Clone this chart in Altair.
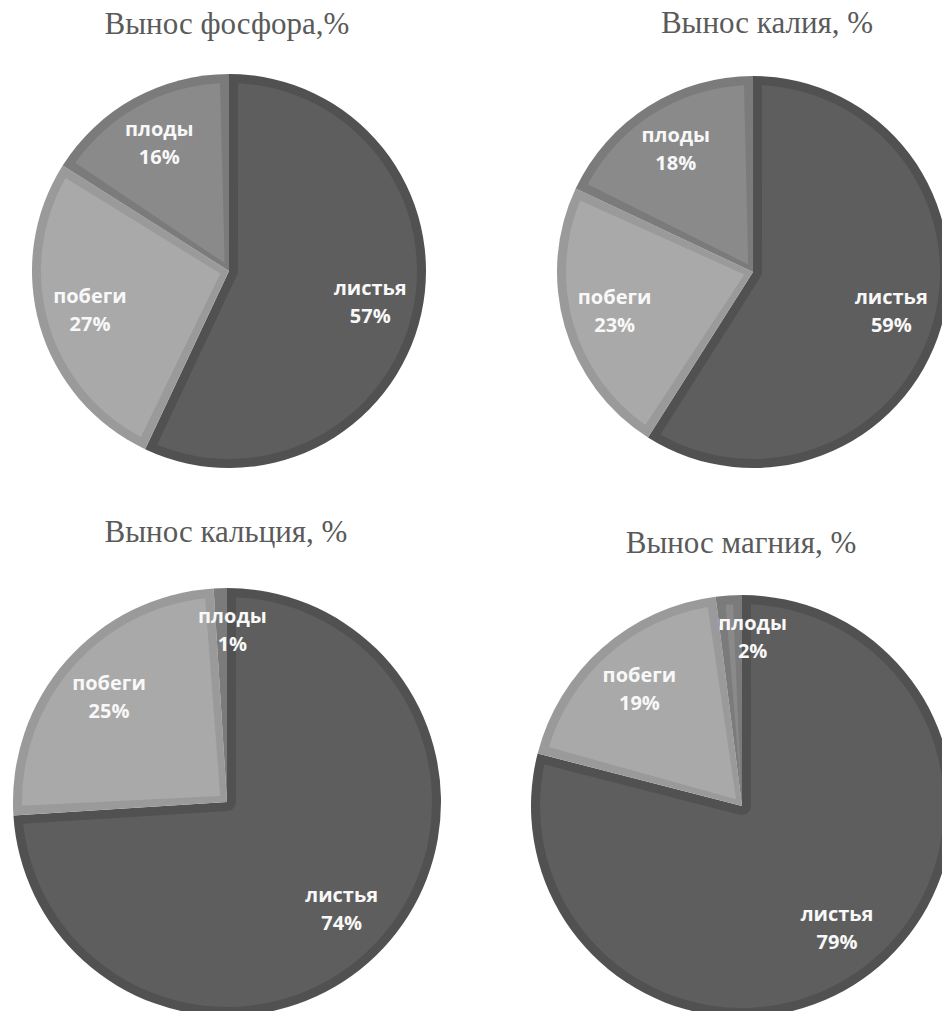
import altair as alt
import pandas as pd

# ---- data ----
parts = ["листья", "побеги", "плоды"]
titles = ["Вынос фосфора,%", "Вынос калия, %", "Вынос кальция, %", "Вынос магния, %"]
phosphorus = [57, 27, 16]
potassium = [59, 23, 18]
calcium = [74, 25, 1]
magnesium = [79, 19, 2]
series = [phosphorus, potassium, calcium, magnesium]

# ---- styles / layout ----
fill_colors = ["#5e5e5e", "#a9a9a9", "#8a8a8a"]
border_colors = ["#515151", "#9a9a9a", "#7b7b7b"]
layout = [
    dict(cx=229, cy=271, r=197, tx=227, ty=34),
    dict(cx=753, cy=272, r=196, tx=767, ty=33),
    dict(cx=227, cy=802, r=214, tx=226, ty=542),
    dict(cx=742, cy=806, r=211, tx=741, ty=553),
]
BORDER = 9

layers = []
for title, vals, lo in zip(titles, series, layout):
    df = pd.DataFrame({"part": parts, "pct": vals, "ord": list(range(len(parts)))})
    df["label"] = df["pct"].astype(str) + "%"
    r = lo["r"]
    base = alt.Chart(df).encode(
        theta=alt.Theta("pct:Q", stack=True, scale=alt.Scale(domain=[0, 100])),
        order=alt.Order("ord:Q"),
        x=alt.value(lo["cx"]),
        y=alt.value(lo["cy"]),
    )
    border = base.mark_arc(outerRadius=r).encode(
        color=alt.Color("part:N", scale=alt.Scale(domain=parts, range=border_colors), legend=None)
    )
    inner_r = r - BORDER
    fill = base.mark_arc(
        outerRadius=inner_r, innerRadius=BORDER, padAngle=2 * BORDER / inner_r
    ).encode(
        color=alt.Color("part:N", scale=alt.Scale(domain=parts, range=fill_colors), legend=None)
    )
    lab = base.transform_calculate(
        lr=f"datum.pct < 5 ? {0.80 * r} : {0.735 * r}"
    ).encode(radius=alt.Radius("lr:Q", scale=None))
    t1 = lab.mark_text(
        dy=-14, font="Open Sans", fontWeight="bold", fontSize=20, color="#f8f8f8"
    ).encode(text="part:N")
    t2 = lab.mark_text(
        dy=14, font="Open Sans", fontWeight="bold", fontSize=20, color="#f8f8f8"
    ).encode(text="label:N")
    ttl = alt.Chart(pd.DataFrame({"t": [title]})).mark_text(
        font="Liberation Serif", fontSize=31, color="#5a5a5a",
        align="center", baseline="alphabetic"
    ).encode(x=alt.value(lo["tx"]), y=alt.value(lo["ty"]), text="t:N")
    layers += [border, fill, t1, t2, ttl]

chart = (
    alt.layer(*layers)
    .resolve_scale(color="independent")
    .properties(width=942, height=1011, autosize=alt.AutoSizeParams(type="none"),
                padding=0, background="white")
    .configure_view(stroke=None)
)

chart.save("out.html", embed_options={"renderer": "svg", "actions": False})
